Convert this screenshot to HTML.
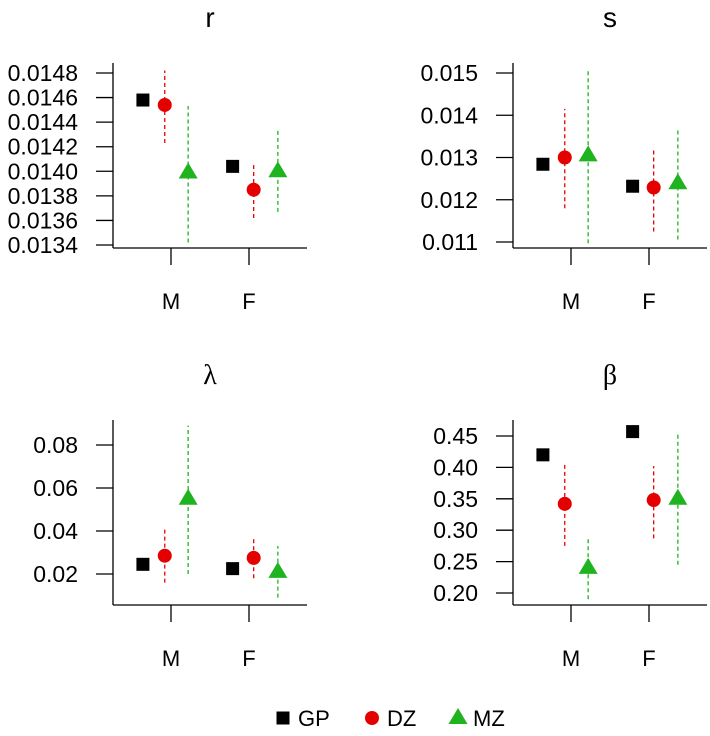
<!DOCTYPE html>
<html><head><meta charset="utf-8"><style>
body{margin:0;background:#fff;}
svg{display:block;font-family:"Liberation Sans",Arial,sans-serif;}
</style></head><body>
<svg id="c" width="710" height="736" viewBox="0 0 710 736"></svg>
<script>
const categories=["M","F"];
const series=["GP","DZ","MZ"];
const xpos=[[0.64,1.79],[0.92,2.06],[1.22,2.37]];
const rEst=[[0.01458,0.01404],[0.01454,0.01385],[0.01399,0.01400]];
const rLo=[[null,null],[0.01423,0.01362],[0.01342,0.01367]];
const rHi=[[null,null],[0.01482,0.01405],[0.01453,0.01433]];
const rTicks=["0.0134","0.0136","0.0138","0.0140","0.0142","0.0144","0.0146","0.0148"];
const sEst=[[0.01284,0.01232],[0.01300,0.01229],[0.01305,0.01239]];
const sLo=[[null,null],[0.01180,0.01125],[0.01097,0.01106]];
const sHi=[[null,null],[0.01415,0.01320],[0.01510,0.01365]];
const sTicks=["0.011","0.012","0.013","0.014","0.015"];
const lEst=[[0.0245,0.0225],[0.0285,0.0275],[0.055,0.021]];
const lLo=[[null,null],[0.016,0.018],[0.020,0.009]];
const lHi=[[null,null],[0.041,0.037],[0.089,0.033]];
const lTicks=["0.02","0.04","0.06","0.08"];
const bEst=[[0.420,0.457],[0.342,0.348],[0.240,0.350]];
const bLo=[[null,null],[0.275,0.287],[0.190,0.245]];
const bHi=[[null,null],[0.404,0.402],[0.287,0.455]];
const bTicks=["0.20","0.25","0.30","0.35","0.40","0.45"];

const NS="http://www.w3.org/2000/svg";
const svg=document.getElementById('c');
function mk(tag,attrs,parent){const e=document.createElementNS(NS,tag);for(const k in attrs)e.setAttribute(k,attrs[k]);(parent||svg).appendChild(e);return e;}
const colors=["#000","#e50000","#1fb41f"];

function panel(name,title,serif,ax,ay,ticks,t0,tN,yTop,yBot,est,lo,hi){
  const g=mk('g',{});
  
  
  const tv0=parseFloat(ticks[0]),tvN=parseFloat(ticks[ticks.length-1]);
  const y=v=>t0+(v-tv0)*(tN-t0)/(tvN-tv0);
  const x=v=>ax+58+(v-1)*78;
  const t=mk('text',{x:ax+97,y:yTop-36,'text-anchor':'middle','font-size':28,'font-family':serif?'"Liberation Serif",serif':'"Liberation Sans",sans-serif'},g);
  t.textContent=title;
  
  
  const ya=mk('line',{x1:ax,y1:yTop,x2:ax,y2:ay,stroke:'#000','stroke-width':1.3},g);
  
  
  const xa=mk('line',{x1:ax,y1:ay,x2:ax+194,y2:ay,stroke:'#000','stroke-width':1.3},g);
  
  
  ticks.forEach(tk=>{
    const yy=y(parseFloat(tk));
    mk('line',{x1:ax-17,y1:yy,x2:ax,y2:yy,stroke:'#000','stroke-width':1.3},g);
    const l=mk('text',{x:ax-35,y:yy+8,'text-anchor':'end','font-size':23},g);
    l.textContent=tk;
    
    
  });
  categories.forEach((c,i)=>{
    const xx=x(i+1);
    mk('line',{x1:xx,y1:ay,x2:xx,y2:ay+17,stroke:'#000','stroke-width':1.3},g);
    const l=mk('text',{x:xx,y:ay+61,'text-anchor':'middle','font-size':22},g);
    l.textContent=c;
    
    
  });
  series.forEach((s,si)=>{
    categories.forEach((c,ci)=>{
      const xx=x(xpos[si][ci]);
      if(lo[si][ci]!=null){
        const el=mk('line',{x1:xx,y1:y(lo[si][ci]),x2:xx,y2:y(hi[si][ci]),stroke:colors[si],'stroke-width':1.3,'stroke-dasharray':'4,3'},g);
        
        
      }
      const yy=y(est[si][ci]);let m;
      if(si===0)m=mk('rect',{x:xx-6.5,y:yy-6.5,width:13,height:13,fill:'#000'},g);
      else if(si===1)m=mk('circle',{cx:xx,cy:yy,r:7,fill:colors[1]},g);
      else m=mk('polygon',{points:`${xx-9.5},${yy+6} ${xx+9.5},${yy+6} ${xx},${yy-10}`,fill:colors[2]},g);
      
      
    });
  });
}
panel('r','r',false,113,248,rTicks,245,73,63,248,rEst,rLo,rHi);
panel('s','s',false,513,248,sTicks,242,73,63,248,sEst,sLo,sHi);
panel('lambda','λ',true,113,605,lTicks,574,445,420,605,lEst,lLo,lHi);
panel('beta','β',true,513,605,bTicks,593,436,420,605,bEst,bLo,bHi);

const lg=mk('g',{});


const lx=[283,372,458];
series.forEach((s,i)=>{
  const cx=lx[i],cy=718;let m;
  if(i===0)m=mk('rect',{x:cx-6.5,y:cy-6.5,width:13,height:13,fill:'#000'},lg);
  else if(i===1)m=mk('circle',{cx:cx,cy:cy,r:7,fill:colors[1]},lg);
  else m=mk('polygon',{points:`${cx-9.5},${cy+6} ${cx+9.5},${cy+6} ${cx},${cy-10}`,fill:colors[2]},lg);
  
  
  const t=mk('text',{x:cx+15,y:cy+8,'font-size':22},lg);
  t.textContent=s;
  
  
});
</script>
</body></html>
